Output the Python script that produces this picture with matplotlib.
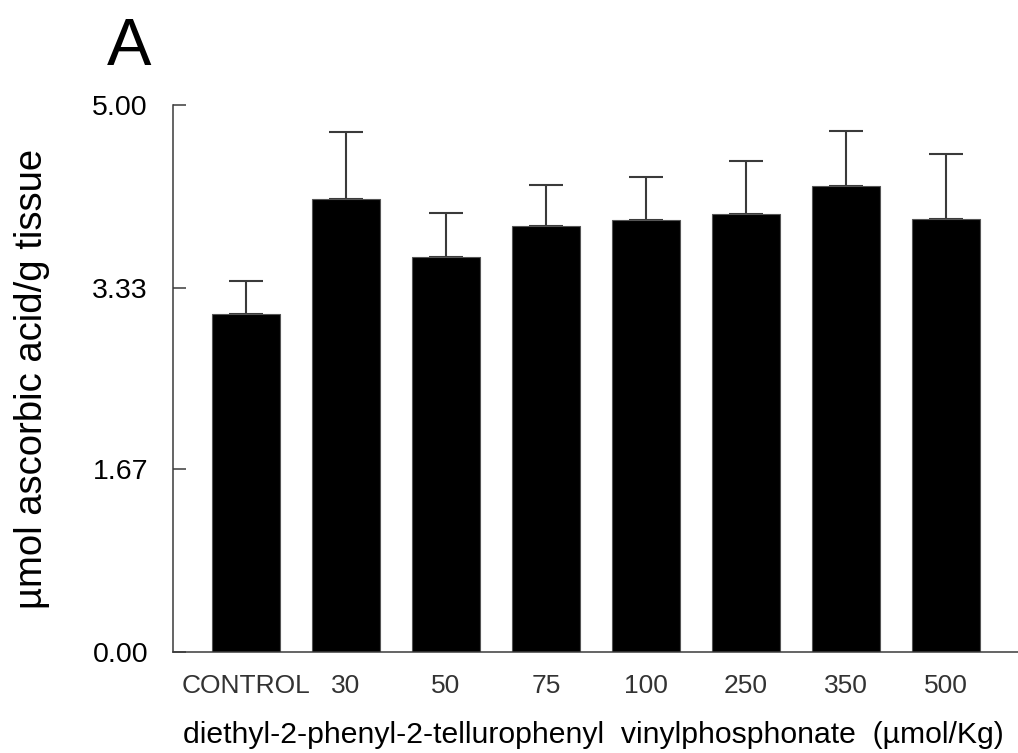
import matplotlib
matplotlib.use("Agg")
import matplotlib.pyplot as plt
import numpy as np

plt.rcParams["font.family"] = ["Liberation Sans", "DejaVu Sans"]

GROUPS = ["CONTROL", "30", "50", "75", "100", "250", "350", "500"]
MEANS = [3.09, 4.14, 3.61, 3.89, 3.95, 4.00, 4.26, 3.96]
SEM = [0.30, 0.61, 0.40, 0.38, 0.39, 0.49, 0.50, 0.59]
YTICKS = [0.0, 1.67, 3.33, 5.00]
YTICK_LABELS = ["0.00", "1.67", "3.33", "5.00"]

AXIS_COLOR = "#3a3a3a"


def main():
    fig = plt.figure(figsize=(10.18, 7.53), dpi=100)
    ax = fig.add_axes([173 / 1018, 1 - 652 / 753, 845 / 1018, 547 / 753])

    x = np.arange(len(GROUPS))
    ax.bar(x, MEANS, width=0.685, color="black", edgecolor="#555555",
           linewidth=0.8, zorder=2)
    ax.errorbar(x, MEANS, yerr=[np.zeros(len(SEM)), SEM], fmt="none",
                ecolor=AXIS_COLOR, elinewidth=1.5, capsize=12, capthick=1.5,
                zorder=1)

    ax.set_xlim(-0.73, 7.72)
    ax.set_ylim(0, 5.0)

    ax.set_yticks(YTICKS)
    ax.set_yticklabels(YTICK_LABELS, fontsize=20.5)
    ax.tick_params(axis="y", direction="in", length=9.5, width=1.1,
                   color=AXIS_COLOR, pad=18)

    ax.set_xticks(x)
    ax.set_xticklabels(GROUPS, fontsize=19, color="#333333")
    ax.tick_params(axis="x", length=0, pad=16)

    for side in ["top", "right"]:
        ax.spines[side].set_visible(False)
    for side in ["left", "bottom"]:
        ax.spines[side].set_color(AXIS_COLOR)
        ax.spines[side].set_linewidth(1.1)

    ax.set_ylabel("µmol ascorbic acid/g tissue", fontsize=27.5)
    ax.yaxis.set_label_coords(-0.1456, 0.5)
    ax.set_xlabel("diethyl-2-phenyl-2-tellurophenyl  vinylphosphonate  (µmol/Kg)",
                  fontsize=21.7)
    ax.xaxis.set_label_coords(0.497, -0.126)

    fig.text(107 / 1018, 1 - 65 / 753, "A", fontsize=48, ha="left",
             va="baseline")

    fig.savefig("out.png", dpi=100)
    plt.close(fig)


if __name__ == "__main__":
    main()
